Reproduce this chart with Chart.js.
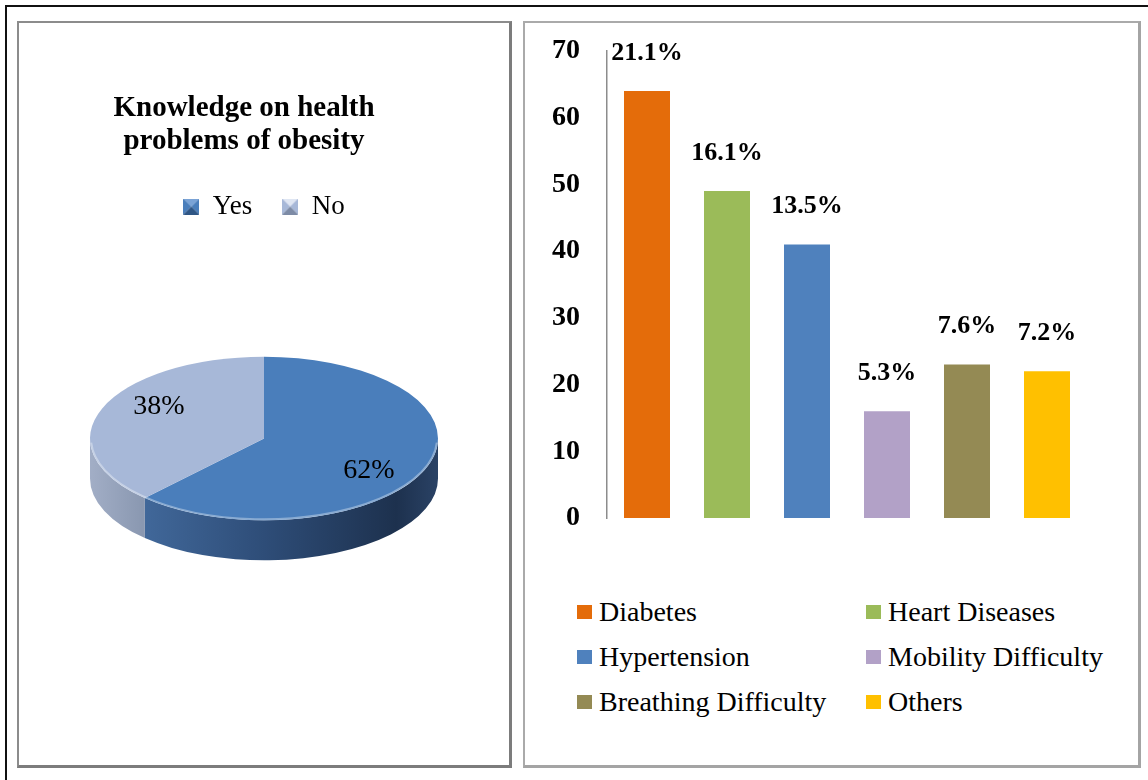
<!DOCTYPE html>
<html>
<head>
<meta charset="utf-8">
<script src="https://cdn.jsdelivr.net/npm/chart.js@4.4.0/dist/chart.umd.min.js"></script>
<style>
  html, body { margin: 0; padding: 0; background: #fff; }
  body { width: 1148px; height: 780px; position: relative; overflow: hidden;
         font-family: "Liberation Serif", "Times New Roman", serif; }
  .frame { position: absolute; left: 5px; top: 5px; width: 1200px; height: 800px;
           border-left: 2px solid #111; border-top: 2px solid #111; }
  .panel { position: absolute; box-sizing: border-box; background: #fff; }
  #pie-panel { left: 17px; top: 21px; width: 495px; height: 747px;
               border: 2px solid #8c8c8c; border-right: 3px solid #7c7c7c; border-bottom: 3px solid #7c7c7c; }
  #bar-panel { left: 523px; top: 21px; width: 618px; height: 747px;
               border: 2px solid #aaaaaa; border-right: 3px solid #a4a4a4; border-bottom: 3px solid #a4a4a4; }
  canvas { position: absolute; left: 0; top: 0; }
  #pie-title { position: absolute; left: 0; top: 67px; width: 450px; text-align: center;
               font-size: 29px; font-weight: bold; line-height: 33px; color: #000; }
  #bar-legend { position: absolute; left: 52px; top: 566px; display: grid;
                grid-template-columns: 289px 289px; }
  #bar-legend .item { height: 45px; display: flex; align-items: center; white-space: nowrap;
                      font-size: 28px; color: #000; }
  #bar-legend .swatch { width: 15px; height: 14px; margin-right: 7px; flex: none; }
</style>
</head>
<body>
<div class="frame"></div>
<div class="panel" id="pie-panel">
  <canvas id="pie" width="490" height="742"></canvas>
  <div id="pie-title"></div>
</div>
<div class="panel" id="bar-panel">
  <canvas id="bar" width="613" height="540"></canvas>
  <div id="bar-legend"></div>
</div>
<script>
const SERIF = '"Liberation Serif", "Times New Roman", serif';

// left chart
const pieTitle = ['Knowledge on health', 'problems of obesity'];
const pieLabels = ['Yes', 'No'];
const pieValues = [62, 38];
const pieColors = ['#4a7ebb', '#a7b8d8'];

// right chart
const categories = ['Diabetes', 'Heart Diseases', 'Hypertension', 'Mobility Difficulty', 'Breathing Difficulty', 'Others'];
const counts = [64, 49, 41, 16, 23, 22];
const pctLabels = ['21.1%', '16.1%', '13.5%', '5.3%', '7.6%', '7.2%'];
const barColors = ['#e46c0a', '#9bbb59', '#4f81bd', '#b2a1c7', '#948a54', '#ffc000'];
const yTicks = { min: 0, max: 70, step: 10 };

// the pie title sits a bit left of the pie in the original, so it is plain html
const titleBox = document.getElementById('pie-title');
pieTitle.forEach((line, i) => {
    if (i) titleBox.append(document.createElement('br'));
    titleBox.append(document.createTextNode(line));
});

// little bevelled squares for the pie legend
function bevelSquare(top, side, bottom) {
    const c = document.createElement('canvas');
    c.width = 16; c.height = 16;
    const g = c.getContext('2d');
    const tri = (pts, col) => {
        g.beginPath();
        g.moveTo(pts[0][0], pts[0][1]);
        pts.slice(1).forEach(p => g.lineTo(p[0], p[1]));
        g.closePath();
        g.fillStyle = col;
        g.fill();
    };
    tri([[0, 0], [16, 0], [8, 8]], top);
    tri([[0, 0], [0, 16], [8, 8]], side);
    tri([[16, 0], [16, 16], [8, 8]], side);
    tri([[0, 16], [16, 16], [8, 8]], bottom);
    return c;
}
const pieIcons = [
    bevelSquare('#7aa3d6', '#4a7ebb', '#2f5685'),
    bevelSquare('#dfe6f3', '#a7b8d8', '#7d8ba6')
];

// squashes the pie into an ellipse and paints the front wall
const pie3d = {
    id: 'pie3d',
    beforeDatasetsDraw(chart, args, opts) {
        const ctx = chart.ctx;
        const arcs = chart.getDatasetMeta(0).data;
        if (!arcs.length) return;
        const { x, y, outerRadius: r } = arcs[0].getProps(['x', 'y', 'outerRadius'], true);
        const ry = r * opts.tilt;
        arcs.forEach((arc, i) => {
            const a1 = Math.max(arc.startAngle, 0);
            const a2 = Math.min(arc.endAngle, Math.PI);
            if (a2 <= a1) return;
            const g = ctx.createLinearGradient(x - r, 0, x + r, 0);
            opts.sides[i].forEach(s => g.addColorStop(s[0], s[1]));
            ctx.save();
            ctx.beginPath();
            ctx.ellipse(x, y, r, ry, 0, a1, a2);
            ctx.ellipse(x, y + opts.depth, r, ry, 0, a2, a1, true);
            ctx.closePath();
            ctx.fillStyle = g;
            ctx.fill();
            ctx.restore();
        });
        ctx.save();
        ctx.translate(x, y);
        ctx.scale(1, opts.tilt);
        ctx.translate(-x, -y);
    },
    afterDatasetsDraw(chart, args, opts) {
        const ctx = chart.ctx;
        ctx.restore();
        const arcs = chart.getDatasetMeta(0).data;
        if (!arcs.length) return;
        const { x, y, outerRadius: r } = arcs[0];
        const ry = r * opts.tilt;
        // soft rim on the front edge
        ctx.save();
        ctx.beginPath();
        ctx.ellipse(x, y, r - 1, ry - 1, 0, 0.05, Math.PI - 0.05);
        ctx.strokeStyle = 'rgba(255,255,255,0.35)';
        ctx.lineWidth = 2;
        ctx.stroke();
        ctx.restore();
        // value labels, nudged round a little like the 3d original
        ctx.save();
        ctx.font = '28px ' + SERIF;
        ctx.fillStyle = '#000';
        ctx.textAlign = 'center';
        ctx.textBaseline = 'middle';
        arcs.forEach((arc, i) => {
            const mid = (arc.startAngle + arc.endAngle) / 2 + opts.labelTurn;
            const lx = x + Math.cos(mid) * r * opts.labelRadius;
            const ly = y + Math.sin(mid) * ry * opts.labelRadius;
            ctx.fillText(chart.data.datasets[0].data[i] + '%', lx, ly);
        });
        ctx.restore();
    }
};

new Chart(document.getElementById('pie'), {
    type: 'pie',
    data: {
        labels: pieLabels,
        datasets: [{
            data: pieValues,
            backgroundColor: pieColors,
            borderWidth: 0,
            hoverOffset: 0
        }]
    },
    options: {
        responsive: false,
        animation: false,
        events: [],
        layout: { padding: { left: 71, right: 71, top: 140, bottom: 118 } },
        plugins: {
            title: { display: false },
            legend: {
                position: 'top',
                labels: {
                    usePointStyle: true,
                    pointStyleWidth: 16,
                    padding: 30,
                    color: '#000',
                    font: { family: SERIF, size: 27 },
                    generateLabels: chart => chart.data.labels.map((text, i) => ({
                        text: text,
                        pointStyle: pieIcons[i],
                        fillStyle: pieColors[i],
                        strokeStyle: pieColors[i],
                        lineWidth: 0,
                        fontColor: '#000',
                        hidden: false,
                        index: i
                    }))
                }
            },
            tooltip: { enabled: false },
            pie3d: {
                tilt: 0.47,
                depth: 40,
                labelRadius: 0.72,
                labelTurn: 0.2,
                sides: [
                    [[0, '#476fa3'], [0.15, '#41689a'], [0.5, '#2e4d78'], [0.88, '#1d314e'], [1, '#2a4265']],
                    [[0, '#a2aec6'], [0.15, '#8a98b1'], [1, '#8a98b1']]
                ]
            }
        }
    },
    plugins: [pie3d]
});

// percentage labels above the bars
const barLabels = {
    id: 'barLabels',
    afterDatasetsDraw(chart, args, opts) {
        const ctx = chart.ctx;
        ctx.save();
        ctx.font = 'bold 26px ' + SERIF;
        ctx.fillStyle = '#000';
        ctx.textAlign = 'center';
        ctx.textBaseline = 'middle';
        chart.getDatasetMeta(0).data.forEach((bar, i) => {
            ctx.fillText(opts.labels[i], bar.x, bar.y - opts.offset);
        });
        ctx.restore();
    }
};

const barChart = new Chart(document.getElementById('bar'), {
    type: 'bar',
    data: {
        labels: categories,
        datasets: [{
            data: counts,
            backgroundColor: barColors,
            borderWidth: 0,
            categoryPercentage: 1,
            barPercentage: 0.575
        }]
    },
    options: {
        responsive: false,
        animation: false,
        events: [],
        layout: { padding: { left: 17, right: 51, top: 28, bottom: 45 } },
        scales: {
            x: { display: false },
            y: {
                min: yTicks.min,
                max: yTicks.max,
                ticks: {
                    stepSize: yTicks.step,
                    padding: 10,
                    color: '#000',
                    font: { family: SERIF, size: 28, weight: 'bold' }
                },
                // hidden tick marks still keep the labels clear of the axis
                grid: { display: false, drawTicks: true, tickLength: 17 },
                border: { display: true, color: '#8c8c8c', width: 1.5 }
            }
        },
        plugins: {
            legend: { display: false },
            tooltip: { enabled: false },
            barLabels: { labels: pctLabels, offset: 38 }
        }
    },
    plugins: [barLabels]
});

// two-column legend under the bars
const legendBox = document.getElementById('bar-legend');
barChart.data.labels.forEach((label, i) => {
    const item = document.createElement('div');
    item.className = 'item';
    const sw = document.createElement('span');
    sw.className = 'swatch';
    sw.style.background = barChart.data.datasets[0].backgroundColor[i];
    item.append(sw, document.createTextNode(label));
    legendBox.append(item);
});
</script>
</body>
</html>
